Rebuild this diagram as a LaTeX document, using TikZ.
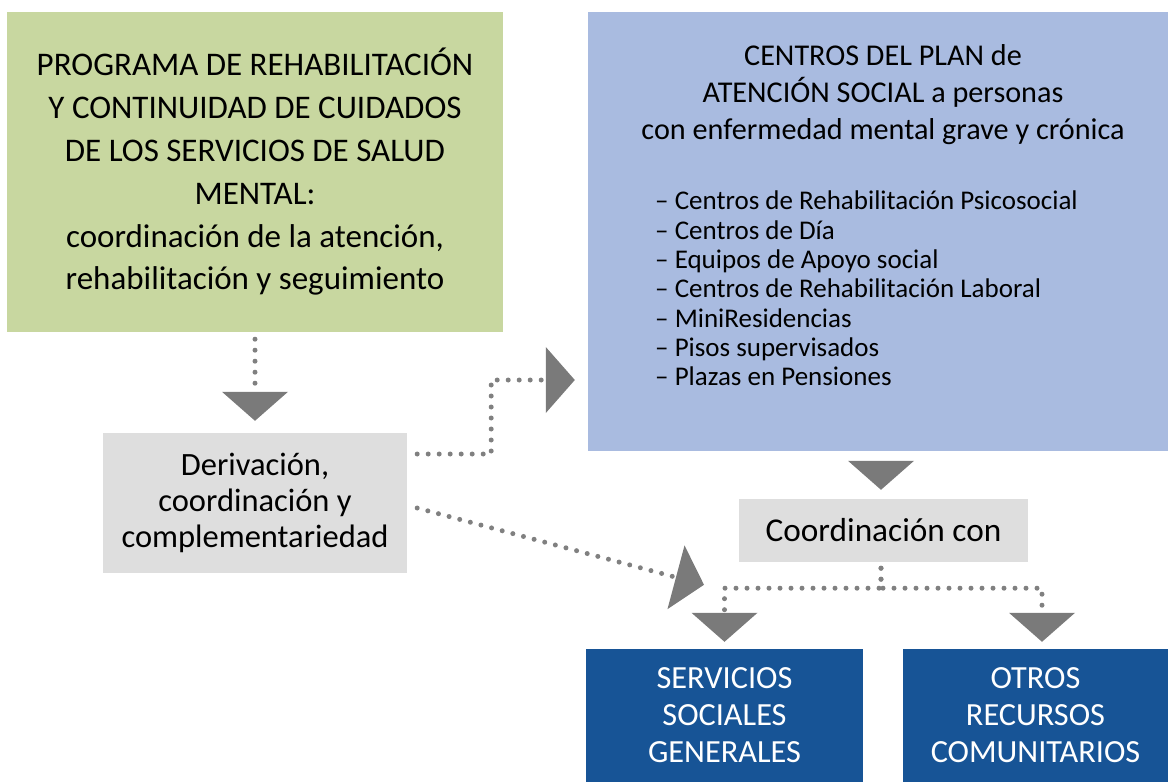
\documentclass[tikz,border=0pt]{standalone}
\usepackage{fontspec}
\setmainfont{Carlito}
\usetikzlibrary{arrows.meta}
\definecolor{boxgreen}{RGB}{200,215,160}
\definecolor{boxblue}{RGB}{169,187,224}
\definecolor{boxgray}{RGB}{222,222,222}
\definecolor{boxnavy}{RGB}{23,84,150}
\definecolor{dotgray}{RGB}{128,128,128}
\definecolor{tipgray}{RGB}{122,122,122}
\begin{document}
\begin{tikzpicture}[x=1pt,y=-1pt,
  box/.style={rectangle, inner sep=0pt, align=center, text=black},
  bigtip/.style={-{Triangle[width=66pt,length=29pt,line width=0pt,color=tipgray,fill=tipgray]}},
  conn/.style={draw=dotgray, line width=5pt, line cap=round, dash pattern=on 0pt off 11pt, bigtip},
  tiponly/.style={draw=tipgray, line width=1pt, line cap=butt, bigtip},
  txt/.style={inner sep=0pt, text=black}]
\useasboundingbox (0,0) rectangle (1168,782);

\node[box, fill=boxgreen, minimum width=496pt, minimum height=320pt,
      font=\fontsize{33}{42.8}\selectfont] (prog) at (255,172)
  {PROGRAMA DE REHABILITACIÓN\\Y CONTINUIDAD DE CUIDADOS\\DE LOS SERVICIOS DE SALUD\\MENTAL:\\coordinación de la atención,\\rehabilitación y seguimiento};

\node[box, fill=boxblue, minimum width=580pt, minimum height=439pt] (plan) at (878,231.5) {};
\node[txt, align=center, anchor=north, font=\fontsize{30.2}{37}\selectfont] (plantitle) at (883,44)
  {CENTROS DEL PLAN de\\ATENCIÓN SOCIAL a personas\\con enfermedad mental grave y crónica};
\node[txt, align=left, anchor=north west, font=\fontsize{27}{29.3}\selectfont] (planlist) at (655,191)
  {– Centros de Rehabilitación Psicosocial\\– Centros de Día\\– Equipos de Apoyo social\\– Centros de Rehabilitación Laboral\\– MiniResidencias\\– Pisos supervisados\\– Plazas en Pensiones};

\node[box, fill=boxgray, minimum width=304pt, minimum height=140pt,
      font=\fontsize{32.5}{36}\selectfont] (deriv) at (255,503)
  {Derivación,\\coordinación y\\complementariedad};

\node[box, fill=boxgray, minimum width=289pt, minimum height=63pt,
      font=\fontsize{33.3}{38}\selectfont] (coord) at (883.5,530.5) {Coordinación con};

\node[box, fill=boxnavy, text=white, minimum width=277pt, minimum height=133pt,
      font=\fontsize{32.3}{37}\selectfont] (serv) at (724.5,715.5) {SERVICIOS\\SOCIALES\\GENERALES};
\node[box, fill=boxnavy, text=white, minimum width=265pt, minimum height=133pt,
      font=\fontsize{32.3}{37}\selectfont] (otros) at (1035.5,715.5) {OTROS\\RECURSOS\\COMUNITARIOS};

\draw[conn] ([yshift=-7pt]prog.south) -- ([yshift=12pt]deriv.north);
\draw[conn] ([xshift=10pt,yshift=49pt]deriv.east) -- ++(74,0) |- ([xshift=-13pt,yshift=-148.5pt]plan.west);
\draw[conn] ([xshift=10pt,yshift=-5pt]deriv.east) -- ([xshift=-20.5pt,yshift=64pt]serv.north);
\draw[tiponly] ([xshift=-2.5pt,yshift=-10pt]plan.south -| coord.north) -- ([xshift=-2.5pt,yshift=9pt]coord.north);
\draw[conn] ([xshift=-2.5pt,yshift=-6pt]coord.south) -- ++(0,20) -| ([yshift=7pt]serv.north);
\draw[conn] ([xshift=-2.5pt,yshift=-6pt]coord.south) -- ++(0,20) -| ([xshift=6.5pt,yshift=7pt]otros.north);
\end{tikzpicture}
\end{document}
